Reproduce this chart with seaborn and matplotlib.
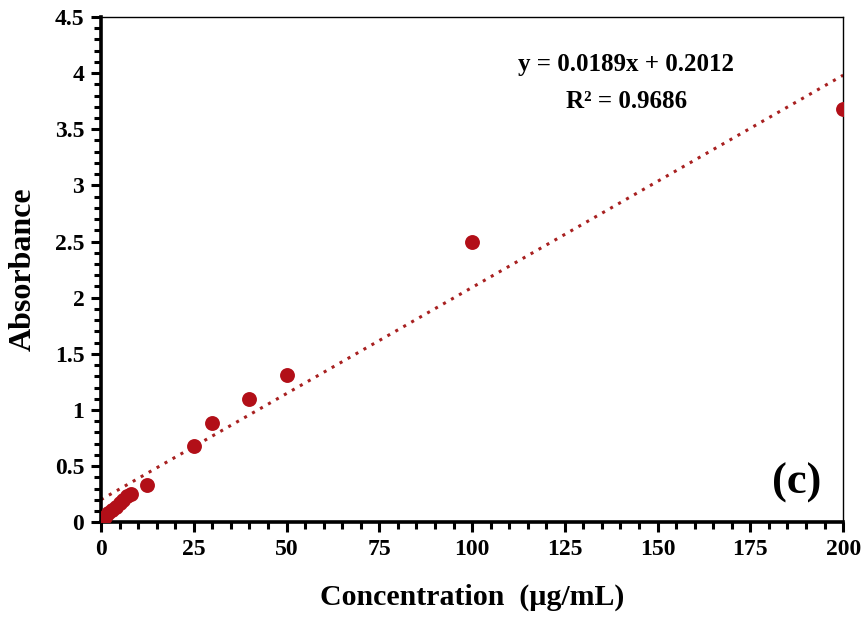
import numpy as np
import pandas as pd
import matplotlib
matplotlib.use('Agg')
import matplotlib.pyplot as plt
import seaborn as sns
from matplotlib.ticker import MultipleLocator

# data
conc = [0.5, 1, 2, 3, 4, 5, 6, 7, 8, 12.5, 25, 30, 40, 50, 100, 200]
absorb = [0.03, 0.05, 0.08, 0.11, 0.14, 0.17, 0.20, 0.23, 0.25, 0.33, 0.68, 0.88, 1.10, 1.31, 2.50, 3.68]
slope = 0.0189
intercept = 0.2012
r2 = 0.9686
ytick_labels = ['0', '0.5', '1', '1.5', '2', '2.5', '3', '3.5', '4', '4.5']

df = pd.DataFrame({'Concentration': conc, 'Absorbance': absorb})

sns.set_style('white')
plt.rcParams['font.family'] = ['Liberation Serif', 'DejaVu Serif']
plt.rcParams['text.color'] = 'black'
plt.rcParams['axes.labelcolor'] = 'black'

fig = plt.figure(figsize=(8.63, 6.27), dpi=100)
ax = fig.add_axes([0.117, 0.167, 0.860, 0.806])

red = '#B20F18'
sns.scatterplot(x='Concentration', y='Absorbance', data=df, color=red,
                s=115, edgecolor=red, linewidth=0, ax=ax, zorder=3)

# trendline from the printed equation
fit_x = np.array([0, 200])
ax.plot(fit_x, slope * fit_x + intercept, linestyle=(0, (1, 2.0)),
        color='#A82020', linewidth=2.2, zorder=2)

ax.set_xlim(0, 200)
ax.set_ylim(0, 4.5)
ax.xaxis.set_major_locator(MultipleLocator(25))
ax.xaxis.set_minor_locator(MultipleLocator(5))
ax.yaxis.set_minor_locator(MultipleLocator(0.1))
ax.set_yticks(np.arange(0, 4.51, 0.5))
ax.set_yticklabels(ytick_labels)

for side in ['left', 'bottom']:
    ax.spines[side].set_linewidth(2.6)
    ax.spines[side].set_color('black')
for side in ['top', 'right']:
    ax.spines[side].set_linewidth(1.0)
    ax.spines[side].set_color('black')

ax.tick_params(axis='both', which='major', direction='out', length=7, width=2.2,
               labelsize=17, colors='black', pad=5)
ax.tick_params(axis='both', which='minor', direction='out', length=5, width=2.2,
               colors='black')
ax.tick_params(left=True, bottom=True, which='both')
for lab in ax.get_xticklabels() + ax.get_yticklabels():
    lab.set_fontweight('bold')

ax.set_xlabel('Concentration  (\u00b5g/mL)', fontsize=21.5, fontweight='bold', labelpad=17)
ax.set_ylabel('Absorbance', fontsize=23, fontweight='bold', labelpad=12)

ax.text(0.708, 0.905, 'y = 0.0189x + 0.2012', transform=ax.transAxes,
        ha='center', va='center', fontsize=18, fontweight='bold')
ax.text(0.708, 0.832, 'R\u00b2 = %.4f' % r2, transform=ax.transAxes,
        ha='center', va='center', fontsize=18, fontweight='bold')
ax.text(0.937, 0.078, '(c)', transform=ax.transAxes,
        ha='center', va='center', fontsize=32, fontweight='bold')

plt.savefig('out.png', dpi=100)
